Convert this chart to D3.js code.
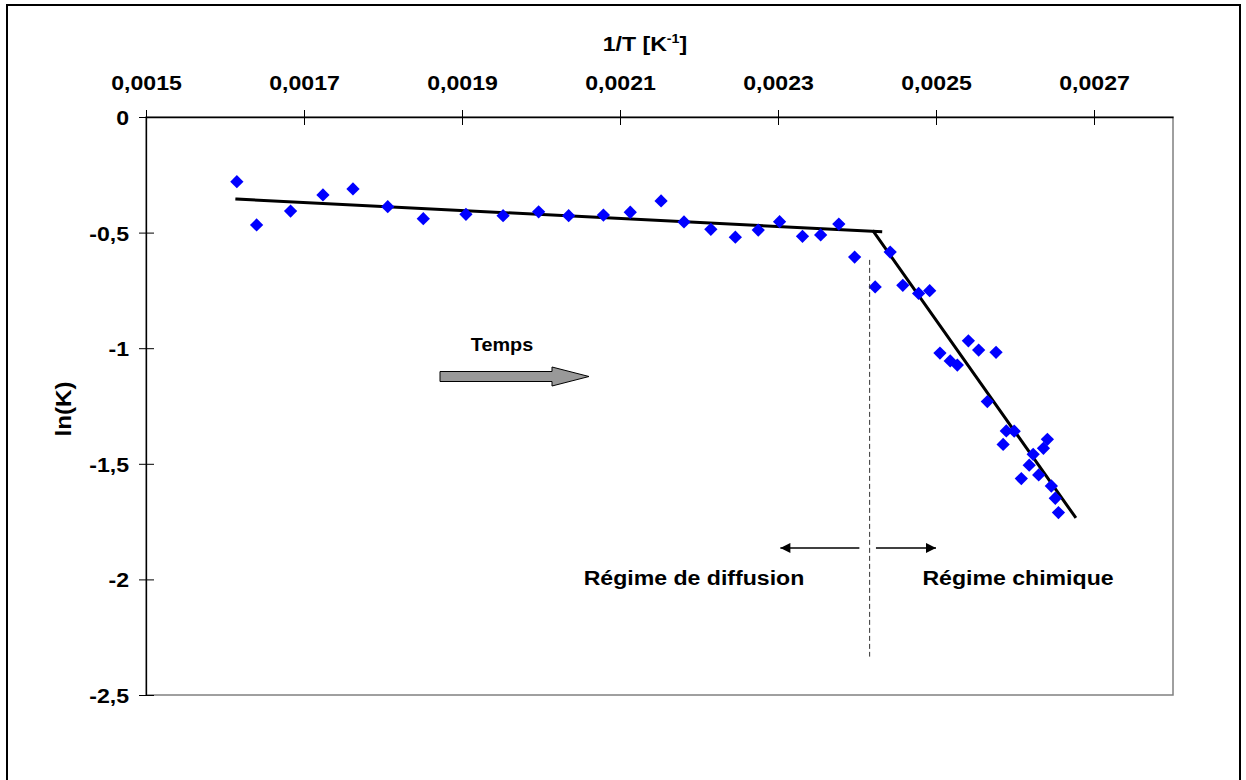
<!DOCTYPE html>
<html>
<head>
<meta charset="utf-8">
<script src="https://cdn.jsdelivr.net/npm/d3@7"></script>
<style>
  html, body { margin: 0; padding: 0; background: #fff; }
  svg { display: block; }
  text { font-family: "Liberation Sans", Arial, sans-serif; font-weight: bold; fill: #000; }
</style>
</head>
<body>
<svg id="chart" width="1246" height="780"></svg>
<script>
// ---- data ----
const invT = [0.001615, 0.00164, 0.001683, 0.001724, 0.001762, 0.001806, 0.001851, 0.001905,
  0.001952, 0.001997, 0.002035, 0.002079, 0.002113, 0.002152, 0.002181, 0.002215, 0.002246,
  0.002275, 0.002302, 0.002331, 0.002354, 0.002377, 0.002397, 0.002423, 0.002442, 0.002458,
  0.002478, 0.002492, 0.002505, 0.002518, 0.002527, 0.002541, 0.002554, 0.002565, 0.002576,
  0.002585, 0.002589, 0.002599, 0.002608, 0.002618, 0.002623, 0.00263, 0.002636, 0.002641,
  0.002646, 0.002651, 0.002655];
const lnK = [-0.280, -0.467, -0.407, -0.337, -0.311, -0.388, -0.440, -0.421,
  -0.427, -0.410, -0.427, -0.424, -0.412, -0.363, -0.454, -0.486, -0.520,
  -0.489, -0.453, -0.516, -0.510, -0.463, -0.606, -0.735, -0.584, -0.728,
  -0.763, -0.751, -1.021, -1.055, -1.073, -0.968, -1.008, -1.231, -1.018,
  -1.416, -1.358, -1.359, -1.564, -1.506, -1.459, -1.548, -1.433, -1.394,
  -1.596, -1.649, -1.711];
const fitDiffusion = [[0.001615, -0.355], [0.002430, -0.496]];
const fitChimique = [[0.002421, -0.496], [0.002676, -1.729]];
const xTicks = [0.0015, 0.0017, 0.0019, 0.0021, 0.0023, 0.0025, 0.0027];
const yTicks = [0, -0.5, -1, -1.5, -2, -2.5];
const xTitle = "1/T [K";
const yTitle = "ln(K)";
const boundaryX = 0.002416;
const boundaryY = [-0.618, -2.334];
const regimeArrowY = -1.864;
const regimeLeft = [0.002403, 0.002303];
const regimeRight = [0.002424, 0.002500];
const labelDiffusion = "Régime de diffusion";
const labelChimique = "Régime chimique";
const labelTemps = "Temps";

// ---- layout ----
const svg = d3.select("#chart");
const L = 146, R = 1173, T = 117, B = 695;
const SX = 1.1; // horizontal stretch of the original lettering
const x = d3.scaleLinear().domain([0.0015, 0.0028]).range([L, R]);
const y = d3.scaleLinear().domain([-2.5, 0]).range([B, T]);
const fmt = v => String(+v.toPrecision(6)).replace(".", ",").replace("\u2212", "-");

// helper: stretched text at (px,py)
function label(px, py, str, size, anchor, rot) {
  const g = svg.append("g").attr("transform",
    `translate(${px},${py})` + (rot ? ` rotate(${rot})` : "") + ` scale(${SX},1)`);
  return g.append("text").attr("text-anchor", anchor || "middle")
    .style("font-size", size + "px").text(str);
}

// outer frame
svg.append("rect").attr("x", 7).attr("y", 5).attr("width", 1233).attr("height", 800)
  .attr("fill", "none").attr("stroke", "#000").attr("stroke-width", 2);

// plot area border (gray)
svg.append("rect").attr("x", L).attr("y", T).attr("width", R - L).attr("height", B - T)
  .attr("fill", "none").attr("stroke", "#808080").attr("stroke-width", 1.5);

// x axis on top
const xAxis = d3.axisTop(x).tickValues(xTicks).tickSizeInner(7).tickSizeOuter(0).tickFormat(fmt);
const gx = svg.append("g").attr("transform", `translate(0,${T})`).call(xAxis);
gx.select(".domain").attr("stroke", "#000").attr("stroke-width", 1.3);
gx.selectAll(".tick line").attr("y2", 8).attr("y1", -7).attr("stroke", "#000");
gx.selectAll(".tick text").attr("y", 0).attr("dy", 0)
  .attr("transform", `translate(0,-27) scale(${SX},1)`)
  .style("font-size", "21px")
  .style("font-family", "'Liberation Sans', Arial, sans-serif").style("font-weight", "bold");

// y axis on left
const yAxis = d3.axisLeft(y).tickValues(yTicks).tickSizeInner(7).tickSizeOuter(0).tickFormat(fmt);
const gy = svg.append("g").attr("transform", `translate(${L},0)`).call(yAxis);
gy.select(".domain").attr("stroke", "#000").attr("stroke-width", 1.3);
gy.selectAll(".tick line").attr("x1", -7).attr("x2", 8).attr("stroke", "#000");
gy.selectAll(".tick text").attr("x", 0).attr("dy", "0.36em")
  .attr("transform", `translate(-17,0) scale(${SX},1)`)
  .style("font-size", "21px")
  .style("font-family", "'Liberation Sans', Arial, sans-serif").style("font-weight", "bold");

// axis titles
const xt = label(645, 51, xTitle, 21, "middle");
xt.text(null);
xt.append("tspan").text(xTitle);
xt.append("tspan").attr("dy", -8).style("font-size", "13px").text("-1");
xt.append("tspan").attr("dy", 8).text("]");

label(71, 409, yTitle, 22, "middle", -90);

// fit lines
const line = d3.line().x(d => x(d[0])).y(d => y(d[1]));
[fitDiffusion, fitChimique].forEach(seg => {
  svg.append("path").datum(seg).attr("d", line).attr("fill", "none")
    .attr("stroke", "#000").attr("stroke-width", 3).attr("stroke-linecap", "square");
});

// data points (diamonds)
const pts = invT.map((v, i) => [v, lnK[i]]);
const diamond = d3.symbol().type(d3.symbolSquare).size(88);
svg.append("g").selectAll("path").data(pts).join("path")
  .attr("d", diamond)
  .attr("transform", d => `translate(${x(d[0])},${y(d[1])}) rotate(45)`)
  .attr("fill", "#0000FF");

// boundary dashed line
svg.append("line").attr("x1", x(boundaryX)).attr("x2", x(boundaryX))
  .attr("y1", y(boundaryY[0])).attr("y2", y(boundaryY[1]))
  .attr("stroke", "#333").attr("stroke-width", 1).attr("stroke-dasharray", "5,3");

// regime arrows
const defs = svg.append("defs");
defs.append("marker").attr("id", "ah").attr("viewBox", "0 0 10 10").attr("refX", 10).attr("refY", 5)
  .attr("markerWidth", 12).attr("markerHeight", 10).attr("markerUnits", "userSpaceOnUse")
  .attr("orient", "auto")
  .append("path").attr("d", "M0,0 L10,5 L0,10 Z").attr("fill", "#000");
[regimeLeft, regimeRight].forEach(a => {
  svg.append("line").attr("x1", x(a[0])).attr("x2", x(a[1]))
    .attr("y1", y(regimeArrowY)).attr("y2", y(regimeArrowY))
    .attr("stroke", "#000").attr("stroke-width", 1.5).attr("marker-end", "url(#ah)");
});
label(694, 585, labelDiffusion, 21, "middle");
label(1018, 585, labelChimique, 21, "middle");

// "Temps" block arrow
label(502, 351, labelTemps, 18, "middle");
const ax0 = 440, ax1 = 552, ax2 = 589, ayc = 376.5;
svg.append("path")
  .attr("d", `M${ax0},${ayc - 5} L${ax1},${ayc - 5} L${ax1},${ayc - 9.5} L${ax2},${ayc} L${ax1},${ayc + 9.5} L${ax1},${ayc + 5} L${ax0},${ayc + 5} Z`)
  .attr("fill", "#999").attr("stroke", "#000").attr("stroke-width", 1);
</script>
</body>
</html>
